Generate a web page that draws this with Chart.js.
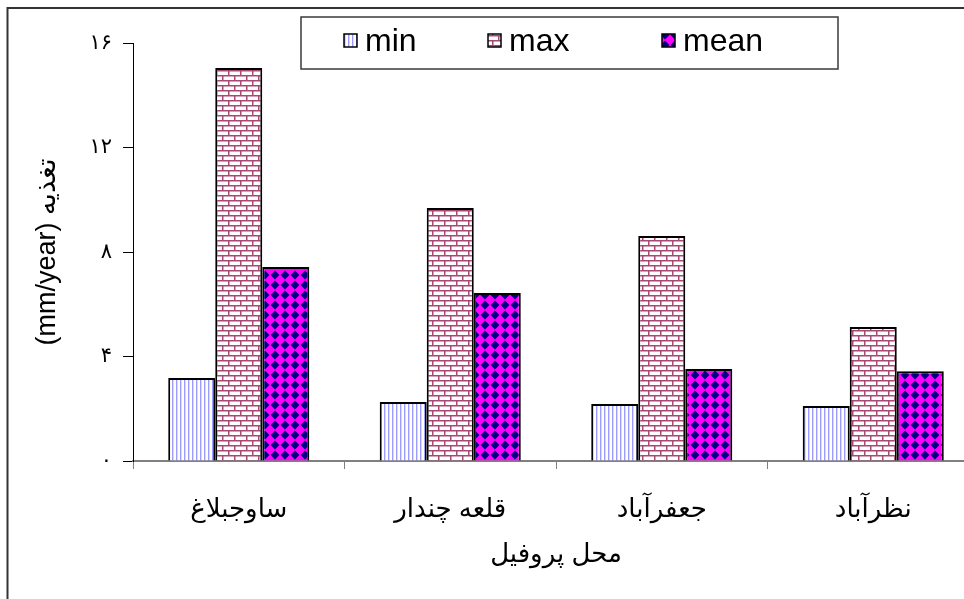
<!DOCTYPE html>
<html>
<head>
<meta charset="utf-8">
<script src="https://cdn.jsdelivr.net/npm/chart.js@4/dist/chart.umd.min.js"></script>
<style>
  html, body { margin: 0; padding: 0; background: #fff; }
  #wrap { width: 964px; height: 599px; overflow: hidden; position: relative; }
  canvas { display: block; }
</style>
</head>
<body>
<div id="wrap"><canvas id="c" width="1000" height="599"></canvas></div>
<script>
// Recharge measured at each profile site (mm/year)
const sites = ['ساوجبلاغ', 'قلعه چندار', 'جعفرآباد', 'نظرآباد'];
const minValues  = [3.18, 2.26, 2.18, 2.11];
const maxValues  = [15.04, 9.68, 8.61, 5.13];
const meanValues = [7.43, 6.43, 3.52, 3.44];
const seriesNames = ['min', 'max', 'mean'];
const yTicks = [0, 4, 8, 12, 16];
const yTitle = '(mm/year) تغذیه';
const xTitle = 'محل پروفیل';

const FONT = '"Liberation Sans", Arial, "DejaVu Sans", sans-serif';

function toPersianDigits(n) {
  return String(n).replace(/[0-9]/g, d => '۰۱۲۳۴۵۶۷۸۹'[d]);
}

// --- fill patterns ---
function makeTile(w, h, draw) {
  const c = document.createElement('canvas');
  c.width = w; c.height = h;
  draw(c.getContext('2d'), w, h);
  return c;
}
const ctx0 = document.getElementById('c').getContext('2d');

// light vertical stripes
const stripeTile = makeTile(4, 4, (g, w, h) => {
  g.fillStyle = '#ffffff'; g.fillRect(0, 0, w, h);
  g.fillStyle = '#9c9cff'; g.fillRect(0, 0, 1.4, h);
});
// brick wall
const brickTile = makeTile(12, 10, (g, w, h) => {
  g.fillStyle = '#ffffff'; g.fillRect(0, 0, w, h);
  g.fillStyle = '#a84874';
  g.fillRect(0, 0, w, 1.5);
  g.fillRect(0, 5, w, 1.5);
  g.fillRect(0, 0, 1.5, 5);
  g.fillRect(6, 5, 1.5, 5);
});
// diamond checker
const diamondTile = makeTile(10, 10, (g, w, h) => {
  g.fillStyle = '#ff00ff'; g.fillRect(0, 0, w, h);
  g.fillStyle = '#000080';
  g.beginPath();
  g.moveTo(5, 0.6); g.lineTo(9.4, 5); g.lineTo(5, 9.4); g.lineTo(0.6, 5);
  g.closePath(); g.fill();
});
const stripePattern = ctx0.createPattern(stripeTile, 'repeat');
const brickPattern = ctx0.createPattern(brickTile, 'repeat');
const diamondPattern = ctx0.createPattern(diamondTile, 'repeat');

// legend drawn inside a framed box over the plot
const boxLegend = {
  id: 'boxLegend',
  afterDraw(chart) {
    const ctx = chart.ctx;
    const box = { x: 301, y: 17, w: 537, h: 52 };
    const itemX = [344, 488, 662];
    ctx.save();
    ctx.fillStyle = '#ffffff';
    ctx.fillRect(box.x, box.y, box.w, box.h);
    ctx.strokeStyle = '#3a3a3a';
    ctx.lineWidth = 1.5;
    ctx.strokeRect(box.x, box.y, box.w, box.h);
    ctx.font = '32px ' + FONT;
    ctx.textBaseline = 'middle';
    ctx.textAlign = 'left';
    chart.data.datasets.forEach((ds, i) => {
      const sx = itemX[i], sy = 34;
      ctx.fillStyle = ds.backgroundColor;
      ctx.fillRect(sx, sy, 13, 13);
      ctx.strokeStyle = '#000';
      ctx.lineWidth = 1.5;
      ctx.strokeRect(sx, sy, 13, 13);
      ctx.fillStyle = '#000';
      ctx.fillText(ds.label, sx + 21, 42);
    });
    ctx.restore();
  }
};

// outer frame on the left and top edges
const frame = {
  id: 'frame',
  afterDraw(chart) {
    const ctx = chart.ctx;
    ctx.save();
    ctx.strokeStyle = '#333';
    ctx.lineWidth = 2;
    ctx.beginPath();
    ctx.moveTo(7.5, 599);
    ctx.lineTo(7.5, 8);
    ctx.lineTo(1000, 8);
    ctx.stroke();
    ctx.restore();
  }
};

new Chart(document.getElementById('c'), {
  type: 'bar',
  data: {
    labels: sites,
    datasets: [
      { label: seriesNames[0], data: minValues, backgroundColor: stripePattern },
      { label: seriesNames[1], data: maxValues, backgroundColor: brickPattern },
      { label: seriesNames[2], data: meanValues, backgroundColor: diamondPattern }
    ]
  },
  options: {
    responsive: false,
    animation: false,
    devicePixelRatio: 1,
    layout: { padding: { left: 0, right: 21, top: 43, bottom: 0 } },
    datasets: {
      bar: {
        borderColor: '#000',
        borderWidth: 2,
        categoryPercentage: 0.667,
        barPercentage: 1
      }
    },
    plugins: {
      legend: { display: false },
      tooltip: { enabled: false }
    },
    scales: {
      x: {
        afterFit(scale) { scale.height = 138; },
        grid: {
          drawOnChartArea: false,
          drawTicks: true,
          tickLength: 8,
          color: '#808080',
          offset: true
        },
        border: { color: '#808080', width: 2 },
        ticks: {
          color: '#000',
          padding: 25,
          maxRotation: 0,
          font: { family: FONT, size: 26 }
        },
        title: {
          display: true,
          text: xTitle,
          color: '#000',
          font: { family: FONT, size: 26 },
          padding: { top: 0, bottom: 29 }
        }
      },
      y: {
        min: 0,
        max: 16,
        afterFit(scale) { scale.width = 133; },
        afterBuildTicks(scale) { scale.ticks = yTicks.map(v => ({ value: v })); },
        grid: {
          drawOnChartArea: false,
          drawTicks: true,
          tickLength: 10,
          color: '#000'
        },
        border: { color: '#000', width: 1 },
        ticks: {
          color: '#000',
          padding: 11,
          font: { family: FONT, size: 21 },
          callback: v => toPersianDigits(v)
        },
        title: {
          display: true,
          text: yTitle,
          color: '#000',
          font: { family: FONT, size: 27 },
          padding: { top: 31, bottom: 0 }
        }
      }
    }
  },
  plugins: [frame, boxLegend]
});
</script>
</body>
</html>
